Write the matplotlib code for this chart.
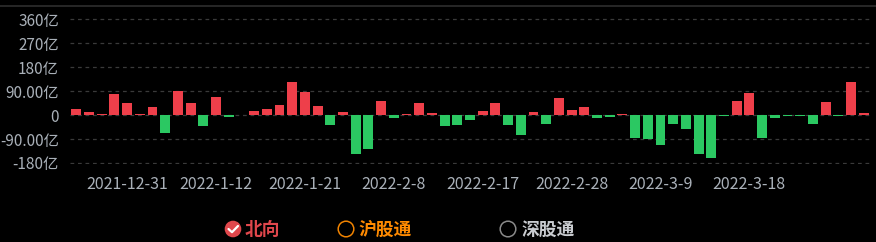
import matplotlib
matplotlib.use("Agg")
import matplotlib.pyplot as plt
from matplotlib.patches import Circle

plt.rcParams['font.family'] = ['Noto Sans CJK SC', 'DejaVu Sans']

values = [22, 11, 4, 79, 45, 4, 30, -67, 90, 45,
          -41, 67, -7, 2, 15, 22, 37, 124, 86, 34,
          -37, 11, -146, -127, 52, -11, 4, 45, 8, -41,
          -37, -19, 15, 45, -37, -75, 11, -34, 64, 19,
          30, -10, -7, 4, -86, -90, -112, -34, -52, -146,
          -161, -2, 52, 82, -86, -10, -2, -2, -33, 50,
          -2, 124, 8]
tick_index = [4, 11, 18, 25, 32, 39, 46, 53]
tick_labels = ['2021-12-31', '2022-1-12', '2022-1-21', '2022-2-8',
               '2022-2-17', '2022-2-28', '2022-3-9', '2022-3-18']
y_ticks = [-180, -90, 0, 90, 180, 270, 360]
y_labels = ['-180亿', '-90.00亿', '0', '90.00亿', '180亿', '270亿', '360亿']
legend_names = ['北向', '沪股通', '深股通']

RED = '#ee3f4a'
GREEN = '#2bc862'
TXT = '#a9b0b8'
BG = '#000000'

W, H = 876, 242
fig = plt.figure(figsize=(W / 100, H / 100), dpi=100, facecolor=BG)

ax_left, ax_right = 70, 870
y_bot_px, y_top_px = 163.5, 7.0
ax = fig.add_axes([ax_left / W, 1 - y_bot_px / H,
                   (ax_right - ax_left) / W, (y_bot_px - y_top_px) / H])
ax.set_facecolor(BG)

x = list(range(len(values)))
colors = [RED if v >= 0 else GREEN for v in values]
ax.bar(x, values, width=0.78, color=colors, zorder=3)

ax.set_xlim(-0.5, len(values) - 0.5)
ax.set_ylim(-182, 406)
ax.set_yticks(y_ticks)
ax.set_yticklabels(y_labels)
ax.set_xticks(tick_index)
ax.set_xticklabels(tick_labels)
ax.tick_params(axis='both', length=0, colors=TXT)
ax.tick_params(axis='y', pad=8, labelsize=11)
ax.tick_params(axis='x', pad=9, labelsize=11.5)
ax.yaxis.grid(True, color='#3a3a3a', linestyle=(0, (3, 3)), linewidth=0.9, zorder=0)
for s in ax.spines.values():
    s.set_visible(False)

# overlay in pixel coordinates
ov = fig.add_axes([0, 0, 1, 1], facecolor='none')
ov.set_xlim(0, W)
ov.set_ylim(H, 0)
ov.axis('off')
ov.plot([0, W], [6.3, 6.3], color='#2e2e2e', linewidth=1.2)

# legend
leg_y = 229
c1 = Circle((233, leg_y), 8.3, facecolor='#e0474c', edgecolor='none')
ov.add_patch(c1)
ov.plot([228.5, 232, 238], [leg_y, leg_y + 3.2, leg_y - 3], color='white', linewidth=1.6,
        solid_capstyle='round', solid_joinstyle='round')
ov.text(245, leg_y + 0.5, legend_names[0], color='#e0474c', fontsize=12.8,
        fontweight='bold', va='center', ha='left')
c2 = Circle((346, leg_y), 7.8, facecolor='none', edgecolor='#f08300', linewidth=1.1)
ov.add_patch(c2)
ov.text(358, leg_y + 0.5, legend_names[1], color='#ff8a00', fontsize=12.8,
        fontweight='bold', va='center', ha='left')
c3 = Circle((508, leg_y), 7.8, facecolor='none', edgecolor='#8a8a8a', linewidth=1.1)
ov.add_patch(c3)
ov.text(521, leg_y + 0.5, legend_names[2], color='#c9ccd0', fontsize=12.8,
        fontweight='bold', va='center', ha='left')

fig.savefig('out.png', dpi=100, facecolor=BG)
